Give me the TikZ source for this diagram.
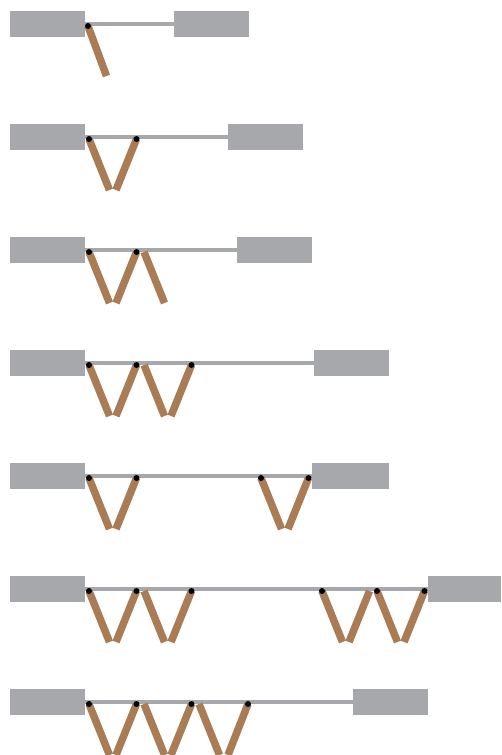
\documentclass[tikz,border=0pt]{standalone}
\usepackage{tikz}
\definecolor{blockgray}{HTML}{A7A8AB}
\definecolor{strutbrown}{HTML}{AA7C55}
\tikzset{
  block/.style={fill=blockgray,draw=none,inner sep=0pt,minimum width=#1,minimum height=26pt,anchor=west},
  block/.default=75pt,
  rail/.style={blockgray,line width=4pt,yshift=-.5pt},
  strut/.style={strutbrown,line width=7.5pt},
  pin/.style={circle,fill=black,inner sep=0pt,minimum size=6pt},
  nopin/.style={inner sep=0pt,minimum size=0pt}
}

\begin{document}
\begin{tikzpicture}[x=1pt,y=-1pt]
\useasboundingbox (0,0) rectangle (501,755);
\foreach \row/\ytop/\xright/\wright/\drop/\struts in {
  1/11/174/75/65/{88/106.5/pin},
  2/124/228/75/66/{89/109.5/pin,136.5/116/pin},
  3/237/237/75/66/{89/109.5/pin,136.5/116/pin,144/164.5/nopin},
  4/350/314/75/66/{89/109.5/pin,136.5/116/pin,144/164.5/nopin,191.5/171/pin},
  5/463/312/77/66/{89/109.5/pin,136.5/116/pin,261/281.5/pin,308.5/288/pin},
  6/576/428/73/66/{89/109.5/pin,136.5/116/pin,144/164.5/nopin,191.5/171/pin,322/342.5/pin,369.5/349/nopin,377/397.5/pin,424.5/404/pin},
  7/689/353/75/66/{89/109.5/pin,136.5/116/pin,144/164.5/nopin,191.5/171/pin,199/219.5/nopin,248/228/pin}}
{
  \node[block] (left\row) at (10,\ytop+13) {};
  \node[block=\wright pt] (right\row) at (\xright,\ytop+13) {};
  \draw[rail] (left\row.east) -- (right\row.west);
  \foreach \xa/\xb/\kind [count=\i] in \struts {
    \coordinate (foot\row-\i) at (\xb,\ytop+\drop);
    \coordinate (head\row-\i) at (\xa,\ytop+15);
    \draw[strut] (head\row-\i) -- (foot\row-\i);
    \node[\kind] (pin\row-\i) at (head\row-\i) {};
  }
}
\end{tikzpicture}
\end{document}
